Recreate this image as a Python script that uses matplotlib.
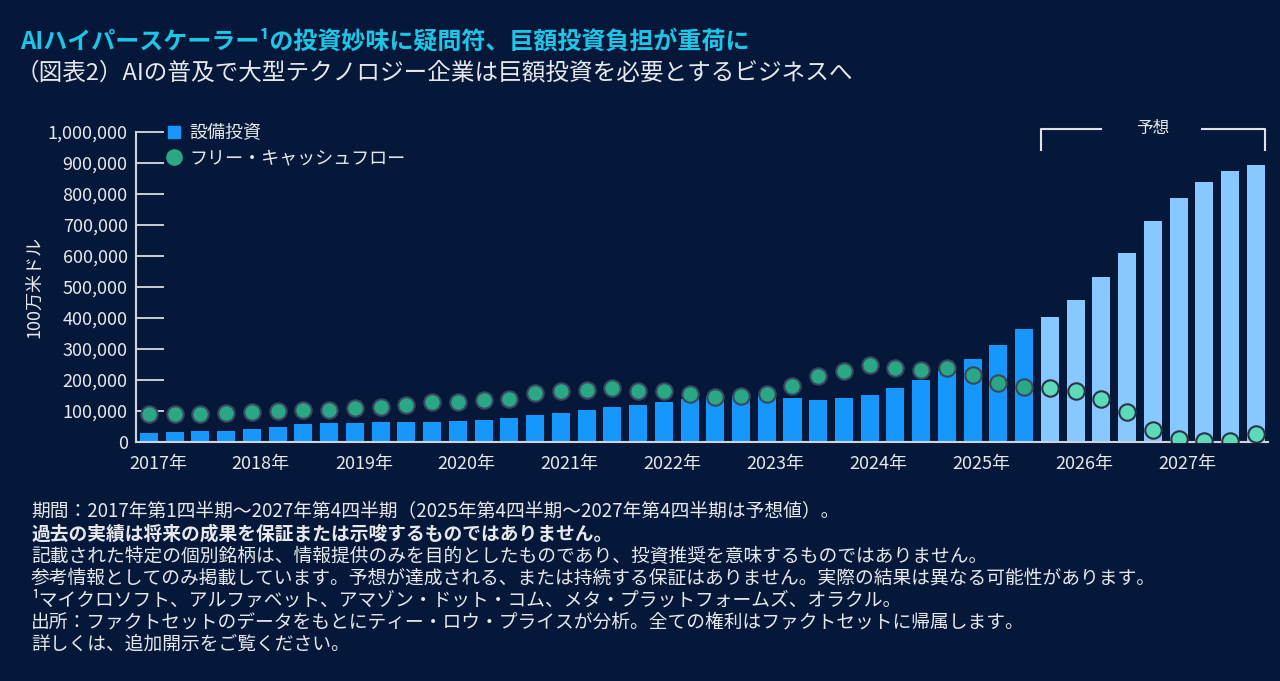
import numpy as np
import matplotlib
matplotlib.use('Agg')
import matplotlib.pyplot as plt
from matplotlib.lines import Line2D

plt.rcParams['font.family'] = ['Noto Sans CJK JP', 'DejaVu Sans']

# quarterly data, 2017Q1 .. 2027Q4 (100万米ドル)
quarters = [f'{y}Q{q}' for y in range(2017, 2028) for q in range(1, 5)]
capex = [30000, 32000, 34000, 37000, 43000, 50000, 57000, 61000, 61000, 63000, 65000, 63000,
         68000, 70000, 76000, 88000, 95000, 104000, 113000, 119000, 129000, 139000, 147000, 149000,
         150000, 142000, 136000, 142000, 153000, 174000, 199000, 228000, 267000, 313000, 366000,
         403000, 457000, 531000, 611000, 713000, 787000, 840000, 874000, 895000]
fcf = [90000, 90000, 91000, 95000, 96000, 99000, 104000, 103000, 110000, 114000, 119000, 130000,
       130000, 135000, 138000, 159000, 166000, 168000, 174000, 166000, 166000, 154000, 146000, 147000,
       156000, 181000, 213000, 229000, 247000, 240000, 231000, 238000, 215000, 190000, 177000,
       175000, 163000, 140000, 97000, 38000, 11000, 3000, 2000, 26000]
forecast_start = 35  # 2025Q4
years = list(range(2017, 2028))
yticks = list(range(0, 1000001, 100000))

bg = '#06183a'
txt = '#e6e8ec'
bar_act = '#1597fd'
bar_fc = '#86c8ff'
dot_act = '#2aa886'
dot_fc = '#5ddbb9'

fig = plt.figure(figsize=(12.8, 6.81), dpi=100)
fig.patch.set_facecolor(bg)
ax = fig.add_axes([136 / 1280, 1 - 442 / 681, (1268 - 136) / 1280, (442 - 132) / 681])
ax.set_facecolor(bg)

x = np.arange(len(quarters))
is_fc = x >= forecast_start
ax.bar(x, capex, 0.7, color=[bar_fc if f else bar_act for f in is_fc], zorder=2)
ax.scatter(x[~is_fc], np.array(fcf)[~is_fc], s=140, color=dot_act, edgecolor='#3b4660',
           linewidth=1.5, zorder=3)
ax.scatter(x[is_fc], np.array(fcf)[is_fc], s=140, color=dot_fc, edgecolor='#2b3446',
           linewidth=1.5, zorder=3)

ax.set_xlim(-0.5, 43.47)
ax.set_ylim(0, 1000000)
ax.set_axisbelow(True)
ax.set_yticks(yticks)
ax.set_yticklabels([f'{v:,}' for v in yticks])
ax.set_xticks([i * 4 + 0.35 for i in range(len(years))])
ax.set_xticklabels([f'{y}年' for y in years])
ax.tick_params(axis='y', direction='in', length=20, width=1.3, color='#d8dbe0',
               labelcolor=txt, labelsize=13, pad=6)
ax.tick_params(axis='x', length=0, labelcolor=txt, labelsize=13, pad=9)
for s in ['top', 'right']:
    ax.spines[s].set_visible(False)
for s in ['left', 'bottom']:
    ax.spines[s].set_color('#cfd3da')
    ax.spines[s].set_linewidth(1.5)
ax.set_ylabel('100万米ドル', color=txt, fontsize=13, labelpad=3)

handles = [Line2D([], [], linestyle='none', marker='s', markersize=8, color=bar_act),
           Line2D([], [], linestyle='none', marker='o', markersize=11, color=dot_act)]
ax.legend(handles, ['設備投資', 'フリー・キャッシュフロー'], loc='upper left',
          bbox_to_anchor=(166 / 1280, 1 - 124 / 681), bbox_transform=fig.transFigure,
          frameon=False, handlelength=0.9, handletextpad=0.4, labelspacing=0.4,
          borderpad=0, borderaxespad=0, labelcolor=txt, fontsize=13)

# forecast bracket
bl, br = forecast_start - 0.35, len(quarters) - 1 + 0.35
ytop, ybot = 1010000, 942000
kw = dict(color='#e0e2e6', lw=1.5, clip_on=False)
ax.plot([bl, bl, 37.0], [ybot, ytop, ytop], **kw)
ax.plot([40.9, br, br], [ytop, ytop, ybot], **kw)
ax.text(39.0, ytop, '予想', color=txt, fontsize=12, ha='center', va='center')

fig.text(20 / 1280, 1 - 42 / 681, 'AIハイパースケーラー¹の投資妙味に疑問符、巨額投資負担が重荷に',
         color='#1dc5e6', fontsize=17.3, fontweight='bold', va='center')
fig.text(16 / 1280, 1 - 73 / 681,
         '（図表2）AIの普及で大型テクノロジー企業は巨額投資を必要とするビジネスへ',
         color=txt, fontsize=17, va='center')

notes = [
    ('期間：2017年第1四半期～2027年第4四半期（2025年第4四半期～2027年第4四半期は予想値）。', 'normal'),
    ('過去の実績は将来の成果を保証または示唆するものではありません。', 'bold'),
    ('記載された特定の個別銘柄は、情報提供のみを目的としたものであり、投資推奨を意味するものではありません。', 'normal'),
    ('参考情報としてのみ掲載しています。予想が達成される、または持続する保証はありません。実際の結果は異なる可能性があります。', 'normal'),
    ('¹マイクロソフト、アルファベット、アマゾン・ドット・コム、メタ・プラットフォームズ、オラクル。', 'normal'),
    ('出所：ファクトセットのデータをもとにティー・ロウ・プライスが分析。全ての権利はファクトセットに帰属します。', 'normal'),
    ('詳しくは、追加開示をご覧ください。', 'normal'),
]
for i, (t, w) in enumerate(notes):
    fig.text(31 / 1280, 1 - (512 + i * 22) / 681, t, color=txt, fontsize=13.5,
             fontweight=w, va='center')

fig.savefig('out.png', dpi=100, facecolor=bg)
